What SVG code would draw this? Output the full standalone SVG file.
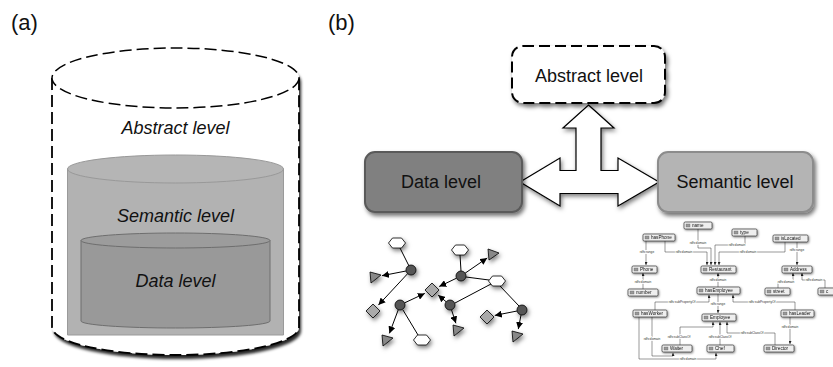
<svg xmlns="http://www.w3.org/2000/svg" width="833" height="367" viewBox="0 0 833 367">
<defs>
<filter id="sh" x="-20%" y="-20%" width="150%" height="160%"><feDropShadow dx="2" dy="3" stdDeviation="2.2" flood-color="#000" flood-opacity="0.55"/></filter>
<filter id="shc" x="-10%" y="-10%" width="125%" height="125%"><feDropShadow dx="2" dy="4" stdDeviation="1.6" flood-color="#000" flood-opacity="0.85"/></filter>
<filter id="shs" x="-50%" y="-50%" width="250%" height="250%"><feDropShadow dx="1.5" dy="2.5" stdDeviation="2" flood-color="#000" flood-opacity="0.5"/></filter>
<filter id="sho" x="-20%" y="-40%" width="150%" height="200%"><feDropShadow dx="0.8" dy="1" stdDeviation="0.8" flood-color="#000" flood-opacity="0.5"/></filter>
<marker id="ah" markerUnits="userSpaceOnUse" markerWidth="7" markerHeight="7" refX="7" refY="3.5" orient="auto"><path d="M0,0 L7,3.5 L0,7 Z" fill="#000"/></marker>
<marker id="sa" markerUnits="userSpaceOnUse" markerWidth="3" markerHeight="3" refX="3" refY="1.5" orient="auto"><path d="M0,0 L3,1.5 L0,3 Z" fill="#222"/></marker>
</defs>
<style>
.lab{font-family:"Liberation Sans",Arial,sans-serif;font-size:22px;fill:#111}
.it{font-family:"Liberation Sans",Arial,sans-serif;font-size:18px;font-style:italic;fill:#111;text-anchor:middle}
.bt{font-family:"Liberation Sans",Arial,sans-serif;font-size:18px;fill:#111;text-anchor:middle}
.ge{stroke:#000;stroke-width:1;fill:none}
.hex{fill:#fff;stroke:#000;stroke-width:0.8}
.cir{fill:#555;stroke:#000;stroke-width:0.8}
.dia{fill:#aaa;stroke:#000;stroke-width:0.8}
.tri{fill:#888;stroke:#000;stroke-width:0.8}
.ob{fill:#eee;stroke:#333;stroke-width:0.7}
.oi{fill:#999;stroke:#555;stroke-width:0.3}
.ot{font-family:"Liberation Sans",Arial,sans-serif;font-size:4.6px;fill:#111}
.oe{stroke:#333;stroke-width:0.5;fill:none}
.ol{font-family:"Liberation Sans",Arial,sans-serif;font-size:3.2px;fill:#333;text-anchor:middle;stroke:#fff;stroke-width:1.6;paint-order:stroke}
</style>

<text class="lab" x="11" y="30">(a)</text>
<text class="lab" x="328" y="30">(b)</text>

<!-- (a) nested cylinders -->
<g id="outer-cylinder">
<path d="M52,78 V327 A123.5,28 0 0 0 299,327 V78 A123.5,30 0 0 0 52,78 Z" fill="#fff" filter="url(#shc)"/>
<path d="M52,78 V327 A123.5,28 0 0 0 299,327 V78" fill="none" stroke="#000" stroke-width="1.8" stroke-dasharray="12 5"/>
<ellipse cx="175.5" cy="78" rx="123.5" ry="30" fill="#fff" stroke="#000" stroke-width="1.5" stroke-dasharray="12 5"/>
<text class="it" x="175.5" y="134">Abstract level</text>
</g>
<g id="semantic-cylinder">
<path d="M67.5,169 V335 H283.5 V169 Z" fill="#b2b2b2" stroke="#9a9a9a" stroke-width="1"/>
<ellipse cx="175.5" cy="169" rx="108" ry="14" fill="#b5b5b5" stroke="#999" stroke-width="1"/>
<text class="it" x="175.5" y="222">Semantic level</text>
</g>
<g id="data-cylinder">
<path d="M81,240.5 V321 A94.5,7 0 0 0 270,321 V240.5 Z" fill="#999" stroke="#6e6e6e" stroke-width="1"/>
<ellipse cx="175.5" cy="240.5" rx="94.5" ry="7.5" fill="#9c9c9c" stroke="#6e6e6e" stroke-width="1"/>
<text class="it" x="175.5" y="287">Data level</text>
</g>

<!-- (b) -->
<g id="connectors">
<polygon points="588.5,105 614,128 601,128 601,170.5 618,170.5 618,158 659,182 618,206 618,193.5 560,193.5 560,206 520,182 560,158 560,170.5 576,170.5 576,128 563,128" fill="#fff" stroke="#000" stroke-width="1.2" stroke-linejoin="miter" filter="url(#shs)"/>
</g>
<g id="abstract-level">
<rect x="512" y="46" width="153" height="57" rx="11" fill="#fff" stroke="#000" stroke-width="2" stroke-dasharray="11 5" filter="url(#sh)"/>
<text class="bt" x="589" y="82">Abstract level</text>
</g>
<g id="data-level">
<rect x="365" y="152" width="157" height="60" rx="10" fill="#808080" stroke="#5a5a5a" stroke-width="2" filter="url(#sh)"/>
<text class="bt" x="441" y="188">Data level</text>
</g>
<g id="semantic-level">
<rect x="658" y="152" width="155" height="60" rx="10" fill="#b4b4b4" stroke="#8c8c8c" stroke-width="2" filter="url(#sh)"/>
<text class="bt" x="735" y="188">Semantic level</text>
</g>

<!-- small graph -->
<g id="graph">
<g id="graph-edges">
<line class="ge" x1="400" y1="248" x2="409" y2="266"/>
<line class="ge" x1="406" y1="271" x2="382" y2="275.7" marker-end="url(#ah)"/>
<line class="ge" x1="407.6" y1="273.7" x2="378.4" y2="305.1" marker-end="url(#ah)"/>
<line class="ge" x1="460" y1="255" x2="461" y2="271"/>
<line class="ge" x1="465.1" y1="273.2" x2="487.2" y2="258" marker-end="url(#ah)"/>
<line class="ge" x1="456.5" y1="278.2" x2="439.2" y2="286.5" marker-end="url(#ah)"/>
<line class="ge" x1="466" y1="277" x2="489" y2="280"/>
<line class="ge" x1="404.5" y1="302.9" x2="424.8" y2="293.4" marker-end="url(#ah)"/>
<line class="ge" x1="398.3" y1="309.7" x2="389.4" y2="333.4" marker-end="url(#ah)"/>
<line class="ge" x1="403" y1="310" x2="418" y2="335"/>
<line class="ge" x1="446.2" y1="301.8" x2="438.1" y2="295.1" marker-end="url(#ah)"/>
<line class="ge" x1="451.5" y1="309.8" x2="455.9" y2="323.3" marker-end="url(#ah)"/>
<line class="ge" x1="455" y1="303" x2="491" y2="284"/>
<line class="ge" x1="500" y1="286" x2="519" y2="306"/>
<line class="ge" x1="517.1" y1="311" x2="494.8" y2="315.4" marker-end="url(#ah)"/>
<line class="ge" x1="521" y1="315" x2="518.3" y2="329.1" marker-end="url(#ah)"/>
</g>
<g id="graph-nodes" filter="url(#shs)">
<polygon class="hex" points="388.5,243 392.5,238 401.5,238 405.5,243 401.5,248 392.5,248"/>
<polygon class="hex" points="451.5,250 455.5,245 464.5,245 468.5,250 464.5,255 455.5,255"/>
<polygon class="hex" points="488.5,281 492.5,276 501.5,276 505.5,281 501.5,286 492.5,286"/>
<polygon class="hex" points="413.5,340 417.5,335 426.5,335 430.5,340 426.5,345 417.5,345"/>
<circle class="cir" cx="411" cy="270" r="5"/>
<circle class="cir" cx="461" cy="276" r="5"/>
<circle class="cir" cx="400" cy="305" r="5"/>
<circle class="cir" cx="450" cy="305" r="5"/>
<circle class="cir" cx="522" cy="310" r="5"/>
<polygon class="dia" points="432,283 439,290 432,297 425,290"/>
<polygon class="dia" points="373,304 380,311 373,318 366,311"/>
<polygon class="dia" points="487,310 494,317 487,324 480,317"/>
<polygon class="tri" points="370,272 381,275 371,283"/>
<polygon class="tri" points="488,249 499,253 489,260"/>
<polygon class="tri" points="382,335 393,338 383,346"/>
<polygon class="tri" points="453,325 464,328 454,336"/>
<polygon class="tri" points="512,331 523,334 513,342"/>
</g>
</g>

<!-- ontology -->
<g id="ontology">
<g id="ontology-edges">
<polyline class="oe" points="646,241 646,265" marker-end="url(#sa)"/><text class="ol" x="647" y="253">rdfs:range</text>
<polyline class="oe" points="665,241 665,252 707,252 707,265" marker-end="url(#sa)"/><text class="ol" x="684" y="253">rdfs:domain</text>
<polyline class="oe" points="698,229 698,248 711,248 711,265" marker-end="url(#sa)"/><text class="ol" x="698" y="244">rdfs:domain</text>
<polyline class="oe" points="745,236 745,245 715,245 715,265" marker-end="url(#sa)"/><text class="ol" x="737" y="246">rdfs:domain</text>
<polyline class="oe" points="785,242 785,252 719,252 719,265" marker-end="url(#sa)"/><text class="ol" x="748" y="253">rdfs:domain</text>
<polyline class="oe" points="797,242 797,265" marker-end="url(#sa)"/><text class="ol" x="797" y="251">rdfs:range</text>
<polyline class="oe" points="643,289 643,273" marker-end="url(#sa)"/><text class="ol" x="643" y="283">rdfs:domain</text>
<polyline class="oe" points="718,287 718,273" marker-end="url(#sa)"/><text class="ol" x="718" y="281">rdfs:domain</text>
<polyline class="oe" points="718,294 718,313" marker-end="url(#sa)"/><text class="ol" x="718" y="305">rdfs:range</text>
<polyline class="oe" points="778,288 778,282 793,282 793,273" marker-end="url(#sa)"/><text class="ol" x="786" y="283">rdfs:domain</text>
<polyline class="oe" points="825,288 825,280 802,280 802,273" marker-end="url(#sa)"/><text class="ol" x="814" y="281">rdfs:domain</text>
<polyline class="oe" points="655,310 655,302 709,302 709,295" marker-end="url(#sa)"/><text class="ol" x="682" y="303">rdfs:subPropertyOf</text>
<polyline class="oe" points="795,310 795,302 733,302 733,295" marker-end="url(#sa)"/><text class="ol" x="762" y="303">rdfs:subPropertyOf</text>
<polyline class="oe" points="790,317 790,344" marker-end="url(#sa)"/><text class="ol" x="790" y="328">rdfs:domain</text>
<polyline class="oe" points="680,345 680,327 713,327 713,322" marker-end="url(#sa)"/><text class="ol" x="679" y="338">rdfs:subClassOf</text>
<polyline class="oe" points="720,345 720,322" marker-end="url(#sa)"/><text class="ol" x="720" y="338">rdfs:subClassOf</text>
<polyline class="oe" points="775,345 775,333 727,333 727,322" marker-end="url(#sa)"/><text class="ol" x="752" y="334">rdfs:subClassOf</text>
<polyline class="oe" points="652,317 652,356 673,356 673,353" marker-end="url(#sa)"/><text class="ol" x="652" y="340">rdfs:domain</text>
<polyline class="oe" points="639,317 639,359 716,359 716,353" marker-end="url(#sa)"/><text class="ol" x="688" y="360">rdfs:domain</text>
</g>
<g id="o-hasPhone" filter="url(#sho)"><rect class="ob" x="643" y="234" width="32" height="7" rx="1.2"/><rect class="oi" x="645" y="236" width="4" height="3"/><text class="ot" x="651" y="239.3">hasPhone</text></g>
<g id="o-name" filter="url(#sho)"><rect class="ob" x="684" y="222" width="28" height="7" rx="1.2"/><rect class="oi" x="686" y="224" width="4" height="3"/><text class="ot" x="692" y="227.3">name</text></g>
<g id="o-type" filter="url(#sho)"><rect class="ob" x="732" y="229" width="25" height="7" rx="1.2"/><rect class="oi" x="734" y="231" width="4" height="3"/><text class="ot" x="740" y="234.3">type</text></g>
<g id="o-isLocated" filter="url(#sho)"><rect class="ob" x="773" y="235" width="35" height="7" rx="1.2"/><rect class="oi" x="775" y="237" width="4" height="3"/><text class="ot" x="781" y="240.3">isLocated</text></g>
<g id="o-Phone" filter="url(#sho)"><rect class="ob" x="632" y="266" width="25" height="7" rx="1.2"/><rect class="oi" x="634" y="268" width="4" height="3"/><text class="ot" x="640" y="271.3">Phone</text></g>
<g id="o-Restaurant" filter="url(#sho)"><rect class="ob" x="701" y="266" width="35" height="7" rx="1.2"/><rect class="oi" x="703" y="268" width="4" height="3"/><text class="ot" x="709" y="271.3">Restaurant</text></g>
<g id="o-Address" filter="url(#sho)"><rect class="ob" x="782" y="266" width="30" height="7" rx="1.2"/><rect class="oi" x="784" y="268" width="4" height="3"/><text class="ot" x="790" y="271.3">Address</text></g>
<g id="o-number" filter="url(#sho)"><rect class="ob" x="628" y="289" width="30" height="7" rx="1.2"/><rect class="oi" x="630" y="291" width="4" height="3"/><text class="ot" x="636" y="294.3">number</text></g>
<g id="o-hasEmployee" filter="url(#sho)"><rect class="ob" x="697" y="287" width="43" height="7" rx="1.2"/><rect class="oi" x="699" y="289" width="4" height="3"/><text class="ot" x="705" y="292.3">hasEmployee</text></g>
<g id="o-street" filter="url(#sho)"><rect class="ob" x="765" y="288" width="25" height="7" rx="1.2"/><rect class="oi" x="767" y="290" width="4" height="3"/><text class="ot" x="773" y="293.3">street</text></g>
<g id="o-c" filter="url(#sho)"><rect class="ob" x="818" y="288" width="22" height="7" rx="1.2"/><rect class="oi" x="820" y="290" width="4" height="3"/><text class="ot" x="826" y="293.3">c</text></g>
<g id="o-hasWorker" filter="url(#sho)"><rect class="ob" x="633" y="310" width="34" height="7" rx="1.2"/><rect class="oi" x="635" y="312" width="4" height="3"/><text class="ot" x="641" y="315.3">hasWorker</text></g>
<g id="o-Employee" filter="url(#sho)"><rect class="ob" x="702" y="314" width="34" height="7" rx="1.2"/><rect class="oi" x="704" y="316" width="4" height="3"/><text class="ot" x="710" y="319.3">Employee</text></g>
<g id="o-hasLeader" filter="url(#sho)"><rect class="ob" x="781" y="310" width="33" height="7" rx="1.2"/><rect class="oi" x="783" y="312" width="4" height="3"/><text class="ot" x="789" y="315.3">hasLeader</text></g>
<g id="o-Waiter" filter="url(#sho)"><rect class="ob" x="662" y="345" width="30" height="7" rx="1.2"/><rect class="oi" x="664" y="347" width="4" height="3"/><text class="ot" x="670" y="350.3">Waiter</text></g>
<g id="o-Chef" filter="url(#sho)"><rect class="ob" x="707" y="345" width="27" height="7" rx="1.2"/><rect class="oi" x="709" y="347" width="4" height="3"/><text class="ot" x="715" y="350.3">Chef</text></g>
<g id="o-Director" filter="url(#sho)"><rect class="ob" x="764" y="345" width="30" height="7" rx="1.2"/><rect class="oi" x="766" y="347" width="4" height="3"/><text class="ot" x="772" y="350.3">Director</text></g>
</g>
</svg>
